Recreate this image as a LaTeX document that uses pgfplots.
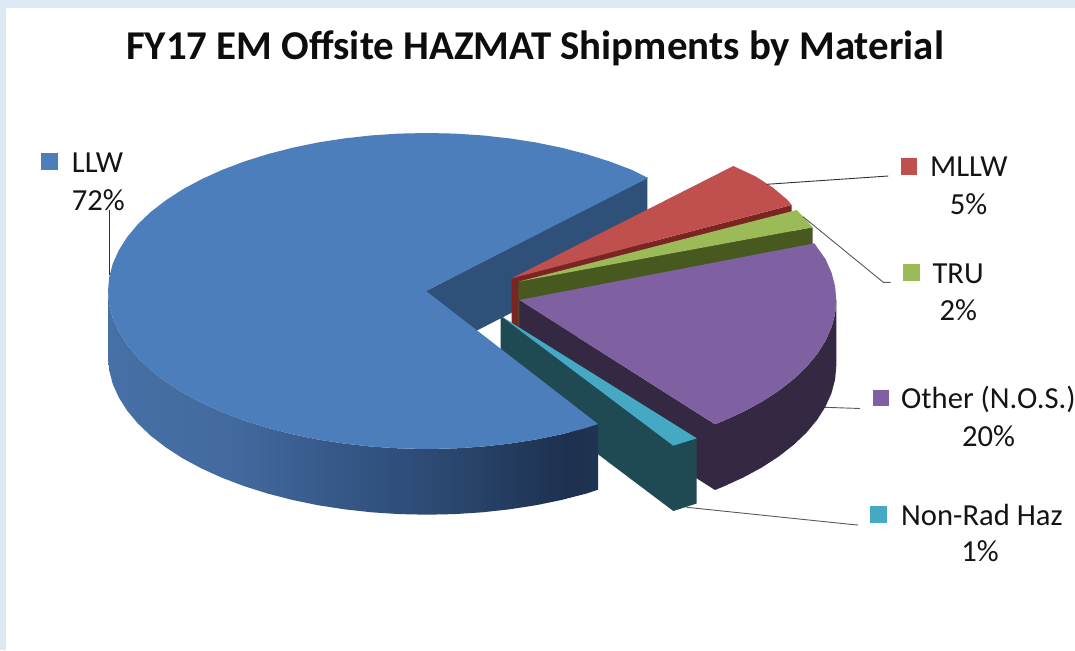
\documentclass[border=0pt]{standalone}
\usepackage{pgfplots}
\pgfplotsset{compat=1.18}
\usepackage{fontspec}
\setmainfont{Carlito}

% Slice colours
\definecolor{frameblue}{HTML}{DDE8F5}
\definecolor{llwtop}{HTML}{4B7EBB}
\definecolor{llwwall}{HTML}{2F5079}
\definecolor{mllwtop}{HTML}{C0504D}
\definecolor{mllwwall}{HTML}{7A2522}
\definecolor{trutop}{HTML}{9BBB59}
\definecolor{truwall}{HTML}{47591F}
\definecolor{othertop}{HTML}{7F60A0}
\definecolor{otherwall}{HTML}{352843}
\definecolor{nradtop}{HTML}{45A9C4}
\definecolor{nradwall}{HTML}{1F4A54}
\definecolor{leader}{HTML}{303030}

% Rim of the large slice, lighter on the left and darkening to the right
\pgfdeclarehorizontalshading{llwrim}{100bp}{%
  rgb(0bp)=(0.275,0.44,0.65);
  rgb(25bp)=(0.275,0.44,0.65);
  rgb(38bp)=(0.26,0.415,0.62);
  rgb(50bp)=(0.205,0.335,0.52);
  rgb(62bp)=(0.155,0.265,0.415);
  rgb(72bp)=(0.115,0.19,0.31);
  rgb(75bp)=(0.12,0.205,0.32);
  rgb(100bp)=(0.12,0.205,0.32)}

\newcommand{\lbl}[4]{\node[anchor=#1,inner sep=0pt,font=\fontsize{30.6}{33}\selectfont,text=black!92] at (axis cs:#2,#3) {#4};}

\begin{document}
\begin{tikzpicture}
\begin{axis}[
  scale only axis, width=1075pt, height=650pt,
  xmin=0, xmax=1075, ymin=0, ymax=650, y dir=reverse,
  axis lines=none, clip=true,
  every axis plot/.append style={no markers, draw=none},
]
% page frame and white panel
\addplot[fill=frameblue] coordinates {(0,0) (1075,0) (1075,650) (0,650)};
\addplot[fill=white] coordinates {(6,8) (1075,8) (1075,650) (6,650)};

% inner wall of the LLW slice
\addplot[fill=llwwall] coordinates {(426,291) (647.3,177.3) (647.3,243) (426,356.7)};

% MLLW slice
\addplot[fill=mllwwall] coordinates {(511.7,278.3) (791.7,205) (791.7,270.7) (511.7,344)};
\addplot[fill=mllwtop] coordinates {(511.7,278.3) (733.3,166) (756.1,176.7) (773,187.7) (787,199.5) (791.7,205)};

% TRU slice
\addplot[fill=truwall] coordinates {(518.3,281.7) (812.7,227.3) (812.7,293) (518.3,347.4)};
\addplot[fill=trutop] coordinates {(518.3,281.7) (796.7,210) (803.3,216.7) (812.7,227.3)};

% Other (N.O.S.) slice: cut face, rim, top
\addplot[fill=otherwall] coordinates {(519.3,300) (715,424.3) (715,490) (519.3,365.7)};
\addplot[fill=otherwall] coordinates {(836.3,300) (835.1,313.8) (831.5,327.4) (825.5,340.9) (817.2,354) (806.6,366.8) (793.8,379) (779,390.6) (762.1,401.6) (743.5,411.7) (723.1,421) (715,424.3)
  (715,490) (723.1,486.7) (743.5,477.4) (762.1,467.3) (779,456.3) (793.8,444.7) (806.6,432.5) (817.2,419.7) (825.5,406.6) (831.5,393.1) (835.1,379.5) (836.3,365.7)};
\addplot[fill=othertop] coordinates {(519.3,300) (814.3,243.3) (825.5,259.1) (831.5,272.6) (835.1,286.2) (836.3,300) (835.1,313.8) (831.5,327.4) (825.5,340.9) (817.2,354) (806.6,366.8) (793.8,379) (779,390.6) (762.1,401.6) (743.5,411.7) (723.1,421) (715,424.3)};

% Non-Rad Haz slice
\addplot[fill=nradwall] coordinates {(500.7,316) (696.7,438.3) (696.7,503.5) (673.3,511) (500.7,381)};
\addplot[fill=nradtop] coordinates {(500.7,316) (696.7,438.3) (673.3,445.7)};

% LLW slice: rim with its shading, then top
\addplot[shade, shading=llwrim] coordinates {(108,291) (109.2,304.8) (112.8,318.4) (118.9,331.9) (127.2,345) (137.9,357.8) (150.7,370) (165.7,381.6) (182.6,392.6) (201.4,402.7) (221.9,412) (244,420.4) (267.5,427.8) (292.2,434.2) (317.9,439.5) (344.4,443.6) (371.6,446.6) (399.2,448.4) (427,449) (454.8,448.4) (482.4,446.6) (509.6,443.6) (536.1,439.5) (561.8,434.2) (586.5,427.8) (598,424)
  (598,489.7) (586.5,493.5) (561.8,499.9) (536.1,505.2) (509.6,509.3) (482.4,512.3) (454.8,514.1) (427,514.7) (399.2,514.1) (371.6,512.3) (344.4,509.3) (317.9,505.2) (292.2,499.9) (267.5,493.5) (244,486.1) (221.9,477.7) (201.4,468.4) (182.6,458.3) (165.7,447.3) (150.7,435.7) (137.9,423.5) (127.2,410.7) (118.9,397.6) (112.8,384.1) (109.2,370.5) (108,356.7)};
\addplot[fill=llwtop] coordinates {(426,291) (648,178) (632.1,170) (610,161.6) (586.5,154.2) (561.8,147.8) (536.1,142.5) (509.6,138.4) (482.4,135.4) (454.8,133.6) (427,133) (399.2,133.6) (371.6,135.4) (344.4,138.4) (317.9,142.5) (292.2,147.8) (267.5,154.2) (244,161.6) (221.9,170) (201.4,179.3) (182.6,189.4) (165.7,200.4) (150.7,212) (137.9,224.2) (127.2,237) (118.9,250.1) (112.8,263.6) (109.2,277.2) (108,291) (109.2,304.8) (112.8,318.4) (118.9,331.9) (127.2,345) (137.9,357.8) (150.7,370) (165.7,381.6) (182.6,392.6) (201.4,402.7) (221.9,412) (244,420.4) (267.5,427.8) (292.2,434.2) (317.9,439.5) (344.4,443.6) (371.6,446.6) (399.2,448.4) (427,449) (454.8,448.4) (482.4,446.6) (509.6,443.6) (536.1,439.5) (561.8,434.2) (586.5,427.8) (598,424)};

% leader lines
\addplot[draw=leader, line width=0.9pt] coordinates {(109.3,210) (109.3,275)};
\addplot[draw=leader, line width=0.9pt] coordinates {(766.7,184.3) (888.3,176)};
\addplot[draw=leader!80, line width=0.9pt] coordinates {(803,216.7) (883.3,282.3) (890.7,282.3)};
\addplot[draw=leader!80, line width=0.9pt] coordinates {(825,407.3) (860,408.5)};
\addplot[draw=leader!80, line width=0.9pt] coordinates {(686.7,507.3) (850,524.3) (858,525)};

% legend keys
\addplot[fill=llwtop] coordinates {(40.7,153.3) (57.7,153.3) (57.7,170) (40.7,170)};
\addplot[fill=mllwtop] coordinates {(900.7,158) (916.7,158) (916.7,175) (900.7,175)};
\addplot[fill=trutop] coordinates {(902.7,263.7) (920,263.7) (920,281) (902.7,281)};
\addplot[fill=othertop] coordinates {(873.3,390) (889.3,390) (889.3,406) (873.3,406)};
\addplot[fill=nradtop] coordinates {(870,506) (887.3,506) (887.3,522.7) (870,522.7)};

% category names and shares
\lbl{base west}{71.7}{172.7}{LLW}
\lbl{base west}{71.7}{210}{72\%}
\lbl{base west}{930}{176.7}{MLLW}
\lbl{base}{968.5}{214}{5\%}
\lbl{base west}{932.3}{283.3}{TRU}
\lbl{base}{958.3}{320}{2\%}
\lbl{base west}{901}{408.3}{Other (N.O.S.)}
\lbl{base}{988.5}{446.7}{20\%}
\lbl{base west}{901}{525}{Non-Rad Haz}
\lbl{base}{980}{561.7}{1\%}

% title
\node[anchor=base,inner sep=0pt,font=\fontsize{40.9}{45}\selectfont\bfseries,text=black!95] at (axis cs:535,60) {FY17 EM Offsite HAZMAT Shipments by Material};
\end{axis}
\end{tikzpicture}
\end{document}
